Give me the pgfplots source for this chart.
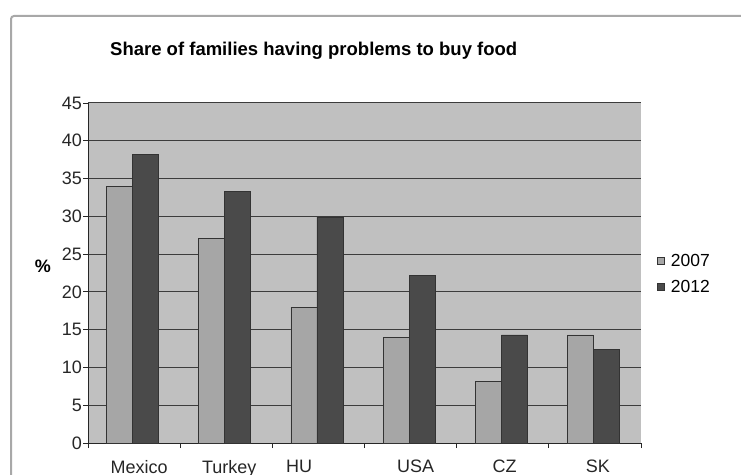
\documentclass[border=0pt]{standalone}
\usepackage{pgfplots}
\pgfplotsset{compat=1.18}
\usepackage{fontspec}
\setmainfont{Liberation Sans}
\definecolor{bg}{HTML}{C0C0C0}
\definecolor{lightbar}{HTML}{A6A6A6}
\definecolor{darkbar}{HTML}{4A4A4A}
\definecolor{gridc}{HTML}{3C3C3C}
\definecolor{framec}{HTML}{A8A8A8}
\begin{document}
\begin{tikzpicture}[x=1pt,y=1pt]
\useasboundingbox (0,0) rectangle (741,474);
\draw[framec, line width=2pt, rounded corners=3pt] (11,-20) -- (11,458) -- (800,458);
\node[anchor=base west, inner sep=0pt, font=\fontsize{18.5}{20}\selectfont\bfseries] at (110,418) {Share of families having problems to buy food};
\node[inner sep=0pt, font=\fontsize{18}{20}\selectfont\bfseries] at (43,207.5) {\%};
\begin{axis}[
  at={(88pt,31pt)}, anchor=south west,
  scale only axis, width=553pt, height=340pt,
  xmin=-0.5, xmax=5.5, ymin=0, ymax=45,
  axis x line*=bottom, axis y line*=left,
  axis line style={black!85, line width=0.8pt, -},
  axis background/.style={fill=bg},
  ybar, bar width=26pt,
  ytick={0,5,...,45},
  ymajorgrids, grid style={gridc, line width=1pt},
  tick align=outside,
  major tick length=5pt,
  tick style={black!85, line width=0.8pt},
  xtick={-0.5,0.5,1.5,2.5,3.5,4.5,5.5},
  xticklabels={,,,,,,},
  extra x ticks={0.054,1.033,1.79,3.054,4.02,5.033},
  extra x tick labels={Mexico,Turkey,HU,USA,CZ,SK},
  extra x tick style={major tick length=0pt, grid=none,
    xticklabel style={inner sep=0pt, anchor=north, yshift=-17pt}},
  ticklabel style={font=\fontsize{18}{20}\selectfont, text=black!85},
  yticklabel style={inner sep=1pt},
  /pgf/number format/assume math mode=true,
  legend style={at={(1.029,0.497)}, anchor=west, draw=none, fill=none,
    font=\fontsize{17.5}{20}\selectfont, inner sep=0pt, row sep=8pt,
    /tikz/every odd column/.append style={column sep=4pt}},
  legend cell align=left,
  legend image code/.code={\draw[#1] (0pt,-3.5pt) rectangle (7pt,3.5pt);},
]
\addplot[fill=lightbar, draw=black!80, line width=0.6pt, bar shift=-14.5pt]
  coordinates {(0,34) (1,27.1) (2,18) (3,14) (4,8.2) (5,14.3)};
\addplot[fill=darkbar, draw=black!80, line width=0.6pt, bar shift=11.5pt]
  coordinates {(0,38.2) (1,33.3) (2,29.9) (3,22.2) (4,14.3) (5,12.4)};
\legend{2007,2012}
\end{axis}
\end{tikzpicture}
\end{document}
